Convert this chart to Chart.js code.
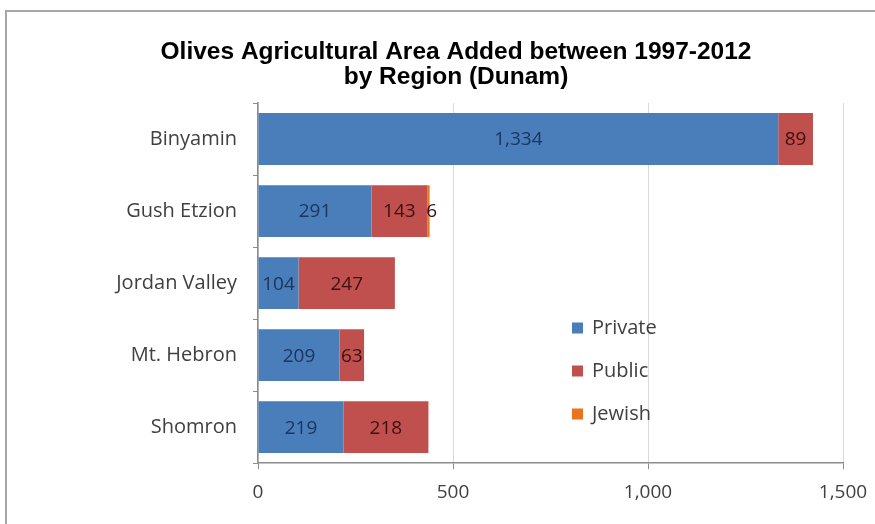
<!DOCTYPE html>
<html>
<head>
<meta charset="utf-8">
<script src="https://cdn.jsdelivr.net/npm/chart.js@4/dist/chart.umd.min.js"></script>
<style>
  body { margin: 0; background: #fff; }
  #frame { position: absolute; left: 5px; top: 10px; width: 900px; height: 600px; border: 2px solid #a6a6a6; }
  #wrap { position: absolute; left: 0; top: 0; width: 875px; height: 524px; }
</style>
</head>
<body>
<div id="frame"></div>
<div id="wrap"><canvas id="myChart" width="875" height="524"></canvas></div>
<script>
'use strict';

// Data
let regions = ['Binyamin', 'Gush Etzion', 'Jordan Valley', 'Mt. Hebron', 'Shomron'];
let privateArea = [1334, 291, 104, 209, 219];
let publicArea = [89, 143, 247, 63, 218];
let jewishArea = [0, 6, 0, 0, 0];
let xTicks = [0, 500, 1000, 1500];
let titleLines = ['Olives Agricultural Area Added between 1997-2012', 'by Region (Dunam)'];

let labelFont = '"Open Sans", Lato, sans-serif';

// Title, centred a bit right of the canvas middle like the original
let chartTitle = {
  id: 'chartTitle',
  afterDraw(chart) {
    let ctx = chart.ctx;
    ctx.save();
    ctx.font = 'bold 24.5px "Liberation Sans", Arial, sans-serif';
    ctx.fillStyle = '#000';
    ctx.textAlign = 'center';
    ctx.textBaseline = 'middle';
    titleLines.forEach((line, i) => {
      ctx.fillText(line, 456, 52 + i * 25);
    });
    ctx.restore();
  }
};

// Value labels inside the bars
let barLabels = {
  id: 'barLabels',
  afterDatasetsDraw(chart) {
    let ctx = chart.ctx;
    ctx.save();
    ctx.font = '19px ' + labelFont;
    ctx.textAlign = 'center';
    ctx.textBaseline = 'middle';
    chart.data.datasets.forEach((ds, i) => {
      let meta = chart.getDatasetMeta(i);
      meta.data.forEach((bar, j) => {
        let v = ds.data[j];
        if (!v) return;
        let cx = (bar.x + bar.base) / 2;
        if (i === 2) cx = bar.x + 2;
        ctx.fillStyle = ds.textColor;
        ctx.fillText(v.toLocaleString('en-US'), cx, bar.y + 1);
      });
    });
    ctx.restore();
  }
};

// Legend drawn inside the plot
let innerLegend = {
  id: 'innerLegend',
  afterDraw(chart) {
    let ctx = chart.ctx;
    ctx.save();
    ctx.font = '20px ' + labelFont;
    ctx.textBaseline = 'middle';
    chart.data.datasets.forEach((ds, i) => {
      let y = 328 + i * 43;
      ctx.fillStyle = ds.backgroundColor;
      ctx.fillRect(572, y - 5.5, 11, 11);
      ctx.fillStyle = '#404040';
      ctx.fillText(ds.label, 592, y);
    });
    ctx.restore();
  }
};

let ctx = document.getElementById('myChart').getContext('2d');
let myChart = new Chart(ctx, {
  type: 'bar',
  data: {
    labels: regions,
    datasets: [{
      label: 'Private',
      data: privateArea,
      backgroundColor: '#4a7ebb',
      textColor: '#1a3560'
    },
    {
      label: 'Public',
      data: publicArea,
      backgroundColor: '#c0504d',
      textColor: '#3d0f0f'
    },
    {
      label: 'Jewish',
      data: jewishArea,
      backgroundColor: '#e9731f',
      textColor: '#3d0f0f'
    }]
  },
  options: {
    indexAxis: 'y',
    responsive: false,
    animation: false,
    layout: { padding: { top: 103, right: 32, bottom: 8, left: 0 } },
    plugins: {
      legend: { display: false },
      tooltip: { enabled: false },
      title: { display: false }
    },
    scales: {
      x: {
        stacked: true,
        min: 0,
        max: 1500,
        afterBuildTicks(scale) {
          scale.ticks = xTicks.map(v => ({ value: v }));
        },
        afterFit(scale) { scale.paddingRight = 0; },
        ticks: {
          color: '#404040',
          font: { family: labelFont, size: 19 },
          padding: 12,
          callback: v => v.toLocaleString('en-US')
        },
        grid: { color: '#d9d9d9', tickColor: '#8c8c8c', tickLength: 6 },
        border: { color: '#8c8c8c', width: 1.5 }
      },
      y: {
        stacked: true,
        afterFit(scale) { scale.width = 258; },
        ticks: {
          color: '#404040',
          font: { family: labelFont, size: 20 },
          padding: 16
        },
        grid: { drawOnChartArea: false, tickColor: '#8c8c8c', tickLength: 5 },
        border: { color: '#8c8c8c', width: 1.5 }
      }
    }
  },
  plugins: [barLabels, innerLegend, chartTitle]
});
</script>
</body>
</html>
